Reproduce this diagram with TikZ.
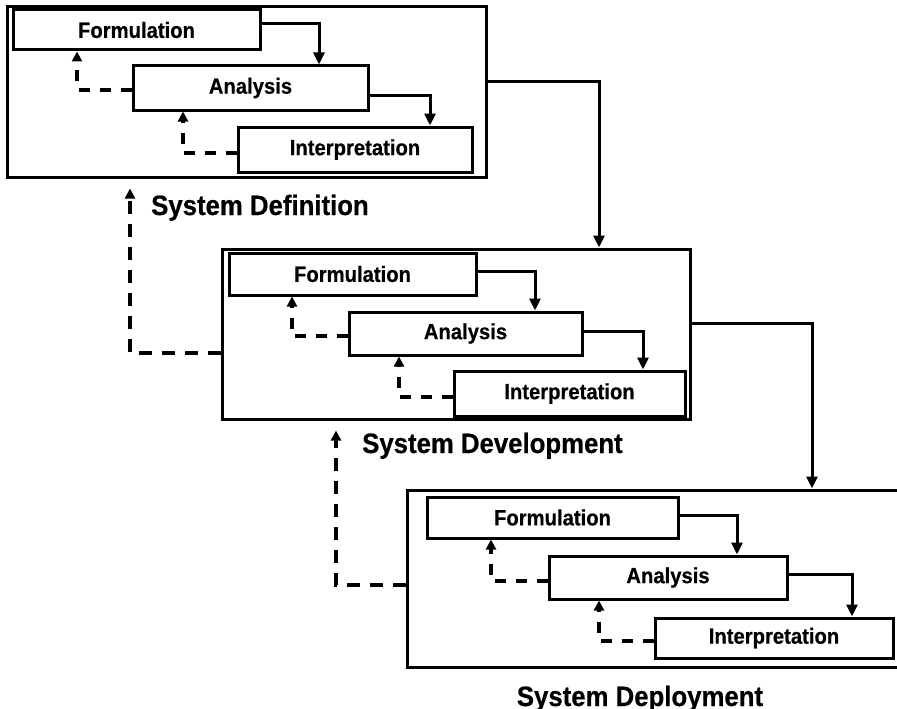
\documentclass[tikz,border=0pt]{standalone}
\usepackage{fontspec}
\newfontfamily\boxfont{Liberation Sans}[FakeStretch=0.92, BoldFeatures={FakeBold=0.5}]
\usetikzlibrary{arrows.meta}

\tikzset{
  groupbox/.style={draw, line width=3pt, inner sep=0pt},
  stagebox/.style={draw, line width=3pt, inner sep=0pt,
    font=\boxfont\bfseries\fontsize{22}{26}\selectfont},
  size/.style args={#1x#2}{minimum width=#1pt, minimum height=#2pt},
  phase/.style={inner sep=0pt, font=\boxfont\bfseries\fontsize{28}{30}\selectfont},
  flow/.style={line width=3pt, -{Triangle[length=12pt,width=11pt]}},
  back/.style={line width=3.3pt, dash pattern=on 11pt off 10pt,
    -{Triangle[length=10pt,width=10pt]}},
  bigback/.style={line width=3.3pt, dash pattern=on 13pt off 10pt,
    -{Triangle[length=10pt,width=10pt]}, shorten >=10pt}
}

\begin{document}
\begin{tikzpicture}[x=1pt,y=-1pt]
\useasboundingbox (0,0) rectangle (897,709);
\clip (0,0) rectangle (897,709);

% ---- phase 1: system definition ----
\node[groupbox, size=479x170] (g1) at (246.5,92) {};
\node[stagebox, size=247x40] (f1) at (136.5,30) {Formulation};
\node[stagebox, size=235x44] (a1) at (250.5,88) {Analysis};
\node[stagebox, size=234x45] (i1) at (355,149.5) {Interpretation};
\draw[flow] (f1.east |- 0,24) -| (a1.north -| 319,0);
\draw[flow] (a1.east |- 0,95) -| (i1.north -| 430,0);
\draw[back] (a1.west |- 0,90) -| (f1.south -| 77,0);
\draw[back] (i1.west |- 0,153) -| (a1.south -| 183,0);
\node[phase, anchor=base west] (l1) at (151,215) {System Definition};

% ---- phase 2: system development ----
\node[groupbox, size=468x170] (g2) at (456,334) {};
\node[stagebox, size=247x42] (f2) at (352.5,274) {Formulation};
\node[stagebox, size=233x43] (a2) at (465.5,333.5) {Analysis};
\node[stagebox, size=231x45] (i2) at (569.5,393.5) {Interpretation};
\draw[flow] (f2.east |- 0,271) -| (a2.north -| 535,0);
\draw[flow] (a2.east |- 0,331) -| (i2.north -| 643,0);
\draw[back] (a2.west |- 0,336) -| (f2.south -| 292,0);
\draw[back] (i2.west |- 0,397) -| (a2.south -| 399,0);
\node[phase, anchor=base west] (l2) at (362,453) {System Development};

% ---- phase 3: system deployment (runs past the right edge) ----
\node[groupbox, size=499x177] (g3) at (656.5,578.5) {};
\node[stagebox, size=251x41] (f3) at (552.5,517.5) {Formulation};
\node[stagebox, size=238x43] (a3) at (668,577.5) {Analysis};
\node[stagebox, size=238x40] (i3) at (774,638) {Interpretation};
\draw[flow] (f3.east |- 0,515) -| (a3.north -| 737,0);
\draw[flow] (a3.east |- 0,574) -| (i3.north -| 852,0);
\draw[back] (a3.west |- 0,581) -| (f3.south -| 491,0);
\draw[back] (i3.west |- 0,641) -| (a3.south -| 599,0);
\node[phase, anchor=base] (l3) at (640,706) {System Deployment};

% ---- links between phases ----
\draw[flow] (g1.east |- 0,82) -| (g2.north -| 599,0);
\draw[flow] (g2.east |- 0,323) -| (g3.north -| 812,0);
\draw[bigback] (g2.west |- 0,353) -| (g1.south -| 130,0);
\draw[bigback] (g3.west |- 0,585) -| (g2.south -| 336,0);
\end{tikzpicture}
\end{document}
